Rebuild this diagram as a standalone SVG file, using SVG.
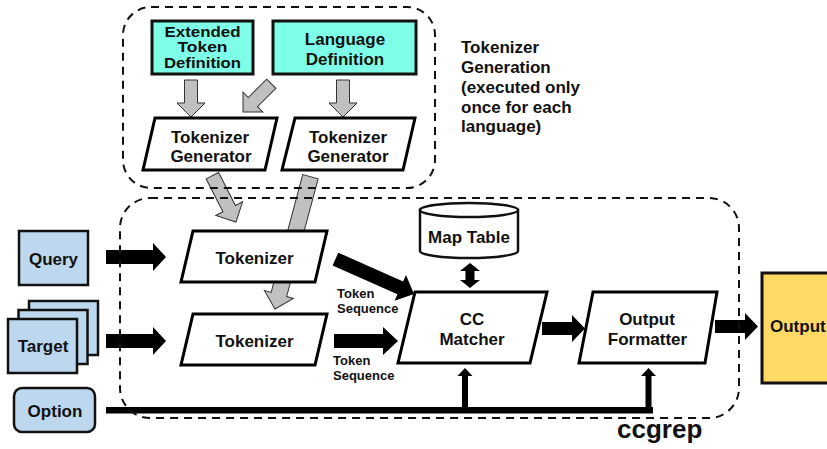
<svg xmlns="http://www.w3.org/2000/svg" width="827" height="449" viewBox="0 0 827 449">
<defs>
<style>
text{font-family:"Liberation Sans",Arial,sans-serif;font-weight:bold;fill:#111;}
.t{font-size:17px;text-anchor:middle;}
.s{font-size:13px;}
.para{fill:#fff;stroke:#000;stroke-width:3;stroke-linejoin:miter;}
.cyan{fill:#80FFE8;stroke:#111;stroke-width:3;}
.blue{fill:#BDD7EE;stroke:#111;stroke-width:2.5;}
.gray{fill:#C0C0C0;stroke:#333;stroke-width:1;stroke-linejoin:miter;}
.blk{fill:#000;stroke:none;}
.dash{fill:none;stroke:#111;stroke-width:2;stroke-dasharray:8 6;}
</style>
</defs>
<rect width="827" height="449" fill="#fff"/>

<g id="connectors">
  <polygon class="gray" points="184.5,80 197.5,80 197.5,103 205,103 191,117 177,103 184.5,103"/>
  <polygon class="gray" transform="translate(243,112) rotate(135)" points="-40,-6.5 -14,-6.5 -14,-14 0,0 -14,14 -14,6.5 -40,6.5"/>
  <polygon class="gray" points="336.5,80 349.5,80 349.5,103 357,103 343,117 329,103 336.5,103"/>
  <polygon class="gray" transform="translate(236,222) rotate(63)" points="-52,-7 -15,-7 -15,-15 0,0 -15,15 -15,7 -52,7"/>
  <polygon class="gray" transform="translate(275,309) rotate(105)" points="-137,-8 -15,-8 -15,-15 0,0 -15,15 -15,8 -137,8"/>

  <polygon class="blk" points="106,250 153,250 153,243 166,257 153,271 153,264 106,264"/>
  <polygon class="blk" points="106,334 153,334 153,327 166,341 153,355 153,348 106,348"/>
  <polygon class="blk" points="334,334 383,334 383,327 398,341 383,355 383,348 334,348"/>
  <polygon class="blk" transform="translate(414,294) rotate(24)" points="-86,-7 -15,-7 -15,-14 0,0 -15,14 -15,7 -86,7"/>
  <polygon class="blk" points="542,322 572,322 572,315 585,328.5 572,342 572,335 542,335"/>
  <polygon class="blk" points="715,320 745,320 745,313 758,326.5 745,340 745,333 715,333"/>
  <polygon class="blk" points="470,263 480,271 474.5,271 474.5,280 480,280 470,288 460,280 465.5,280 465.5,271 460,271"/>
  <rect class="blk" x="106" y="407" width="547" height="6.5"/>
  <polygon class="blk" points="465,368 472.5,376 468,376 468,410 462,410 462,376 457.5,376"/>
  <polygon class="blk" points="648.5,368 656,376 651.5,376 651.5,410 645.5,410 645.5,376 641,376"/>
</g>

<g id="tokenizer-generation-group">
  <rect class="dash" x="123" y="7" width="312" height="181" rx="28" ry="28"/>
  <text x="461" y="52.5" style="font-size:17px">Tokenizer</text>
  <text x="461" y="72.5" style="font-size:17px">Generation</text>
  <text x="461" y="92.5" style="font-size:17px">(executed only</text>
  <text x="461" y="112.5" style="font-size:17px">once for each</text>
  <text x="461" y="132" style="font-size:17px">language)</text>
</g>

<g id="ccgrep-group">
  <rect class="dash" x="120" y="198" width="619" height="220" rx="30" ry="30"/>
  <text x="617" y="438" style="font-size:26px">ccgrep</text>
</g>

<g id="extended-token-definition">
  <rect class="cyan" x="152" y="21" width="101" height="53"/>
  <text class="t" x="202.5" y="36.5" style="font-size:15.5px" textLength="76" lengthAdjust="spacingAndGlyphs">Extended</text>
  <text class="t" x="202.5" y="52" style="font-size:15.5px" textLength="50" lengthAdjust="spacingAndGlyphs">Token</text>
  <text class="t" x="202.5" y="67.5" style="font-size:15.5px" textLength="77" lengthAdjust="spacingAndGlyphs">Definition</text>
</g>

<g id="language-definition">
  <rect class="cyan" x="273" y="21" width="143" height="53"/>
  <text class="t" x="345" y="45">Language</text>
  <text class="t" x="345" y="65">Definition</text>
</g>

<g id="tokenizer-generator-1">
  <polygon class="para" points="155,118 277,118 265,170 143,170"/>
  <text class="t" x="210" y="142.5">Tokenizer</text>
  <text class="t" x="211" y="162">Generator</text>
</g>

<g id="tokenizer-generator-2">
  <polygon class="para" points="295,118 415,118 403,170 282,170"/>
  <text class="t" x="348" y="142.5">Tokenizer</text>
  <text class="t" x="348" y="162">Generator</text>
</g>

<g id="query">
  <rect class="blue" x="19" y="231" width="69" height="54"/>
  <text class="t" x="53.5" y="264.5">Query</text>
</g>

<g id="target">
  <rect class="blue" x="29" y="301" width="69" height="54"/>
  <rect class="blue" x="18.5" y="310" width="69" height="54"/>
  <rect class="blue" x="8" y="319" width="69" height="54"/>
  <text class="t" x="43" y="352">Target</text>
</g>

<g id="option">
  <rect class="blue" x="14" y="388" width="81" height="44" rx="8" ry="8"/>
  <text class="t" x="55" y="416.5">Option</text>
</g>

<g id="tokenizer-1">
  <polygon class="para" points="193,231 327,231 315,282 181,282"/>
  <text class="t" x="254.5" y="264">Tokenizer</text>
</g>

<g id="tokenizer-2">
  <polygon class="para" points="193,314 327,314 315,365 181,365"/>
  <text class="t" x="254.5" y="347">Tokenizer</text>
</g>

<g id="token-sequence-labels">
  <text class="s" x="337" y="298">Token</text>
  <text class="s" x="337" y="313">Sequence</text>
  <text class="s" x="333" y="365">Token</text>
  <text class="s" x="333" y="380">Sequence</text>
</g>

<g id="map-table">
  <path d="M420,210 L420,251 A49,7 0 0 0 518,251 L518,210 Z" fill="#fff" stroke="#111" stroke-width="2.5"/>
  <ellipse cx="469" cy="210" rx="49" ry="7" fill="#fff" stroke="#111" stroke-width="2.5"/>
  <text class="t" x="469" y="243">Map Table</text>
</g>

<g id="cc-matcher">
  <polygon class="para" points="415,292 547,292 530,363 398,363"/>
  <text class="t" x="472" y="325">CC</text>
  <text class="t" x="472" y="345">Matcher</text>
</g>

<g id="output-formatter">
  <polygon class="para" points="593,292 717,292 705,363 579,363"/>
  <text class="t" x="647" y="325">Output</text>
  <text class="t" x="647.5" y="345">Formatter</text>
</g>

<g id="output">
  <rect x="762" y="273" width="70" height="110" fill="#FFD966" stroke="#111" stroke-width="3"/>
  <text x="770" y="332" style="font-size:17px">Output</text>
</g>
</svg>
